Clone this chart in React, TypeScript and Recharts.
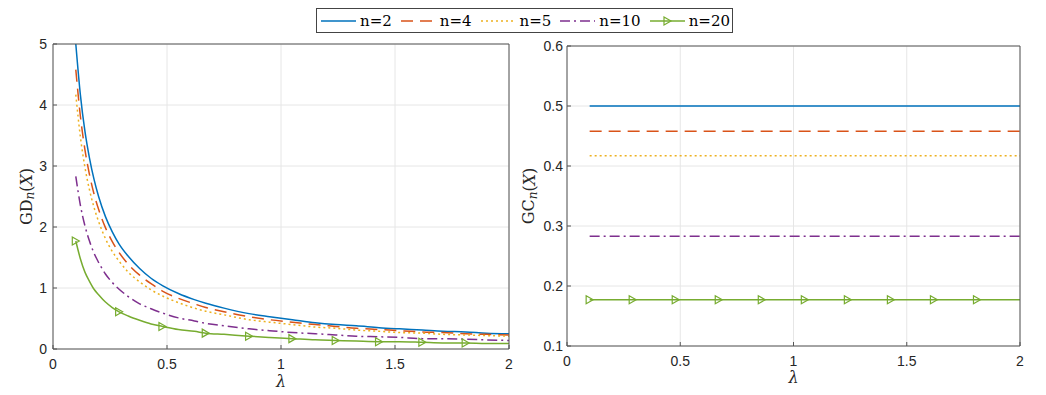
import React from 'react'
import { LineChart, Line, XAxis, YAxis, CartesianGrid } from 'recharts'

const COLORS = ['#0072BD', '#D95319', '#EDB120', '#7E2F8E', '#77AC30']
const SERIES_NAMES = ['n=2', 'n=4', 'n=5', 'n=10', 'n=20']
const KEYS = ['n2', 'n4', 'n5', 'n10', 'n20']
const DASHES = [undefined, '12 7', '2 3', '10 4 2 4', undefined]

const LAMBDA = [
	0.1, 0.12, 0.14, 0.16, 0.18, 0.2, 0.23, 0.26, 0.29, 0.33, 0.38, 0.43, 0.48, 0.55, 0.62,
	0.67, 0.75, 0.86, 0.95, 1.05, 1.15, 1.24, 1.33, 1.43, 1.52, 1.62, 1.71, 1.81, 1.9, 2.0,
]
const MARKER_LAMBDAS = [0.1, 0.29, 0.48, 0.67, 0.86, 1.05, 1.24, 1.43, 1.62, 1.81]

const GD_N2 = [
	5.0, 4.17, 3.57, 3.13, 2.78, 2.5, 2.17, 1.92, 1.72, 1.52, 1.32, 1.16, 1.04, 0.91, 0.81,
	0.75, 0.67, 0.58, 0.53, 0.48, 0.43, 0.4, 0.38, 0.35, 0.33, 0.31, 0.29, 0.28, 0.26, 0.25,
]
const GD_N4 = [
	4.58, 3.82, 3.27, 2.86, 2.54, 2.29, 1.99, 1.76, 1.58, 1.39, 1.21, 1.07, 0.95, 0.83, 0.74,
	0.68, 0.61, 0.53, 0.48, 0.44, 0.4, 0.37, 0.34, 0.32, 0.3, 0.28, 0.27, 0.25, 0.24, 0.23,
]
const GD_N5 = [
	4.17, 3.48, 2.98, 2.61, 2.32, 2.09, 1.81, 1.6, 1.44, 1.26, 1.1, 0.97, 0.87, 0.76, 0.67,
	0.62, 0.56, 0.48, 0.44, 0.4, 0.36, 0.34, 0.31, 0.29, 0.27, 0.26, 0.24, 0.23, 0.22, 0.21,
]
const GD_N10 = [
	2.83, 2.36, 2.02, 1.77, 1.57, 1.42, 1.23, 1.09, 0.98, 0.86, 0.74, 0.66, 0.59, 0.51, 0.46,
	0.42, 0.38, 0.33, 0.3, 0.27, 0.25, 0.23, 0.21, 0.2, 0.19, 0.17, 0.17, 0.16, 0.15, 0.14,
]
const GD_N20 = [
	1.77, 1.48, 1.26, 1.11, 0.98, 0.89, 0.77, 0.68, 0.61, 0.54, 0.47, 0.41, 0.37, 0.32, 0.29,
	0.26, 0.24, 0.21, 0.19, 0.17, 0.15, 0.14, 0.13, 0.12, 0.12, 0.11, 0.1, 0.1, 0.09, 0.09,
]
// GC is flat in lambda, one level per n
const GC_LEVELS = [0.5, 0.458, 0.417, 0.283, 0.177]

const X_TICKS = [0, 0.5, 1, 1.5, 2]
const GD_TICKS = [0, 1, 2, 3, 4, 5]
const GC_TICKS = [0.1, 0.2, 0.3, 0.4, 0.5, 0.6]

const GD_SERIES = [GD_N2, GD_N4, GD_N5, GD_N10, GD_N20]

const gdData = LAMBDA.map((lam, i) => {
	const row: Record<string, number> = { lam }
	KEYS.forEach((k, j) => {
		row[k] = GD_SERIES[j][i]
	})
	return row
})

const gcData = LAMBDA.map((lam) => {
	const row: Record<string, number> = { lam }
	KEYS.forEach((k, j) => {
		row[k] = GC_LEVELS[j]
	})
	return row
})

const AXIS = '#555555'
const GRID = '#e6e6e6'
const SERIF = '"DejaVu Serif", "Liberation Serif", serif'
const TICK_STYLE = { fill: '#262626', fontSize: 14, fontFamily: '"Liberation Sans", Arial, sans-serif' }

const Marker = (props: any) => {
	const { cx, cy, payload, index } = props
	if (cx == null || cy == null || !payload || !MARKER_LAMBDAS.includes(payload.lam)) {
		return <g key={`m-${index}`} />
	}
	return (
		<path
			key={`m-${index}`}
			d={`M${cx - 3.5},${cy - 4} L${cx + 3.5},${cy} L${cx - 3.5},${cy + 4} Z`}
			fill="none"
			stroke={COLORS[4]}
			strokeWidth={1.2}
		/>
	)
}

const YTitle = (props: any) => {
	const { viewBox, name, dx, fallback } = props
	const vb = viewBox && viewBox.height ? viewBox : fallback
	const cx = vb.x + dx
	const cy = vb.y + vb.height / 2
	return (
		<text
			x={cx}
			y={cy}
			transform={`rotate(-90 ${cx} ${cy})`}
			textAnchor="middle"
			dominantBaseline="central"
			fontFamily={SERIF}
			fontSize={16}
			fill="#262626"
		>
			{name}
			<tspan fontStyle="italic" fontSize={12} dy={4}>
				n
			</tspan>
			<tspan dy={-4}>(</tspan>
			<tspan fontStyle="italic">X</tspan>
			<tspan>)</tspan>
		</text>
	)
}

const XTitle = (props: any) => {
	const { viewBox, dy, fallback } = props
	const vb = viewBox && viewBox.width ? viewBox : fallback
	return (
		<text
			x={vb.x + vb.width / 2}
			y={vb.y + dy}
			textAnchor="middle"
			fontFamily={SERIF}
			fontStyle="italic"
			fontSize={16}
			fill="#262626"
		>
			λ
		</text>
	)
}

const fmt = (v: number) => String(v)

const GDChart = () => (
	<LineChart width={515} height={395} data={gdData} margin={{ top: 43, right: 5, bottom: 0, left: 0 }}>
		<CartesianGrid stroke={GRID} />
		<XAxis
			dataKey="lam"
			type="number"
			domain={[0, 2]}
			ticks={X_TICKS}
			interval={0}
			height={46}
			tickSize={-4}
			tickMargin={14}
			stroke={AXIS}
			tick={TICK_STYLE}
			tickFormatter={fmt}
			label={<XTitle dy={38} fallback={{ x: 53, y: 349, width: 456, height: 46 }} />}
		/>
		<XAxis
			xAxisId="top"
			orientation="top"
			dataKey="lam"
			type="number"
			domain={[0, 2]}
			ticks={X_TICKS}
			interval={0}
			height={1}
			tickSize={-4}
			tick={false}
			stroke={AXIS}
		/>
		<YAxis
			type="number"
			domain={[0, 5]}
			ticks={GD_TICKS}
			interval={0}
			width={53}
			tickSize={-4}
			tickMargin={10}
			stroke={AXIS}
			tick={TICK_STYLE}
			allowDataOverflow
			label={<YTitle name="GD" dx={26} fallback={{ x: 0, y: 44, width: 53, height: 305 }} />}
		/>
		<YAxis
			yAxisId="right"
			orientation="right"
			type="number"
			domain={[0, 5]}
			ticks={GD_TICKS}
			interval={0}
			width={1}
			tickSize={-4}
			tick={false}
			stroke={AXIS}
		/>
		{KEYS.map((k, j) => (
			<Line
				key={k}
				type="monotone"
				dataKey={k}
				stroke={COLORS[j]}
				strokeWidth={1.5}
				strokeDasharray={DASHES[j]}
				dot={j === 4 ? Marker : false}
				activeDot={false}
				isAnimationActive={false}
			/>
		))}
	</LineChart>
)

const GCChart = () => (
	<LineChart width={531} height={395} data={gcData} margin={{ top: 45, right: 25, bottom: 0, left: 0 }}>
		<CartesianGrid stroke={GRID} />
		<XAxis
			dataKey="lam"
			type="number"
			domain={[0, 2]}
			ticks={X_TICKS}
			interval={0}
			height={49}
			tickSize={-4}
			tickMargin={14}
			stroke={AXIS}
			tick={TICK_STYLE}
			tickFormatter={fmt}
			label={<XTitle dy={37} fallback={{ x: 52, y: 346, width: 453, height: 49 }} />}
		/>
		<XAxis
			xAxisId="top"
			orientation="top"
			dataKey="lam"
			type="number"
			domain={[0, 2]}
			ticks={X_TICKS}
			interval={0}
			height={1}
			tickSize={-4}
			tick={false}
			stroke={AXIS}
		/>
		<YAxis
			type="number"
			domain={[0.1, 0.6]}
			ticks={GC_TICKS}
			interval={0}
			width={52}
			tickSize={-4}
			tickMargin={8}
			stroke={AXIS}
			tick={TICK_STYLE}
			allowDataOverflow
			label={<YTitle name="GC" dx={13.5} fallback={{ x: 0, y: 46, width: 52, height: 300 }} />}
		/>
		<YAxis
			yAxisId="right"
			orientation="right"
			type="number"
			domain={[0.1, 0.6]}
			ticks={GC_TICKS}
			interval={0}
			width={1}
			tickSize={-4}
			tick={false}
			stroke={AXIS}
		/>
		{KEYS.map((k, j) => (
			<Line
				key={k}
				type="linear"
				dataKey={k}
				stroke={COLORS[j]}
				strokeWidth={1.5}
				strokeDasharray={DASHES[j]}
				dot={j === 4 ? Marker : false}
				activeDot={false}
				isAnimationActive={false}
			/>
		))}
	</LineChart>
)

const LegendBox = () => (
	<div
		style={{
			position: 'absolute',
			left: 316,
			top: 8,
			width: 417,
			height: 25,
			boxSizing: 'border-box',
			border: '1px solid #444',
			background: '#fff',
			display: 'flex',
			alignItems: 'center',
			paddingLeft: 4,
		}}
	>
		{SERIES_NAMES.map((name, j) => (
			<div key={name} style={{ display: 'flex', alignItems: 'center', marginRight: 9 }}>
				<svg width={35} height={12}>
					<line x1={0} y1={6} x2={35} y2={6} stroke={COLORS[j]} strokeWidth={1.5} strokeDasharray={DASHES[j]} />
					{j === 4 && <path d="M14,2 L21,6 L14,10 Z" fill="none" stroke={COLORS[4]} strokeWidth={1.2} />}
				</svg>
				<span style={{ marginLeft: 4, fontFamily: SERIF, fontSize: 15, color: '#000', lineHeight: '16px' }}>{name}</span>
			</div>
		))}
	</div>
)

const App: React.FC = () => (
	<div style={{ position: 'relative', width: 1046, height: 395, margin: -8, background: '#fff' }}>
		<div style={{ position: 'absolute', left: 0, top: 0 }}>
			<GDChart />
		</div>
		<div style={{ position: 'absolute', left: 515, top: 0 }}>
			<GCChart />
		</div>
		<LegendBox />
	</div>
)

export default App
